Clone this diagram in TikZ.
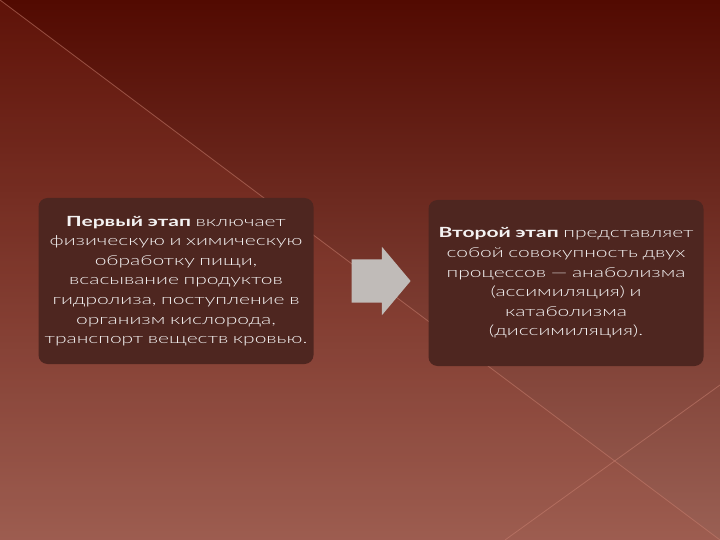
\documentclass[tikz,border=0pt]{standalone}
\usepackage{fontspec}
\setmainfont{Lato}[UprightFont=* Light, BoldFont=* Bold, FakeStretch=1.5]
\usetikzlibrary{shapes.arrows}

\definecolor{bgtop}{HTML}{520A01}
\definecolor{bgmid}{HTML}{6C1606}
\definecolor{bgbot}{HTML}{9A6054}
\definecolor{lightside}{HTML}{B04A38}
\definecolor{boxfill}{HTML}{4E2620}
\definecolor{arrowgray}{HTML}{C0BBB8}
\definecolor{seam}{HTML}{C88070}

\tikzset{
  stagebox/.style={fill=boxfill, rounded corners=9pt, minimum width=275pt,
    minimum height=166pt, text width=272pt, align=center, text=white!94!boxfill,
    font=\fontsize{14}{19.6}\selectfont, inner sep=0pt},
  seamline/.style={seam, opacity=0.55, line width=0.8pt}
}

\begin{document}
\begin{tikzpicture}[x=1pt,y=-1pt]
    \useasboundingbox (0,0) rectangle (720,540);
    % background
    \shade[top color=bgtop, middle color=bgmid, bottom color=bgbot] (0,0) rectangle (720,540);
    \fill[lightside, opacity=0.14] (0,0) -- (720,540) -- (0,540) -- cycle;
    \draw[seamline] (0,0) -- (720,540);
    \draw[seamline] (720,385) -- (505,540);

    \node[stagebox] (first) at (176,281) {\textbf{Первый этап} включает\\
        физическую и химическую\\ обработку пищи,\\ всасывание продуктов\\
        гидролиза, поступление в\\ организм кислорода,\\ транспорт веществ кровью.};
    \node[stagebox] (second) at (566,283) {\textbf{Второй этап} представляет\\
        собой совокупность двух\\ процессов — анаболизма\\ (ассимиляция) и\\
        катаболизма\\ (диссимиляция).};

    \node[single arrow, fill=arrowgray, inner sep=0pt, minimum width=68pt,
        minimum height=59pt, single arrow head extend=12.5pt,
        single arrow tip angle=100, text height=43pt] (step) at (372,281) {};
\end{tikzpicture}
\end{document}
